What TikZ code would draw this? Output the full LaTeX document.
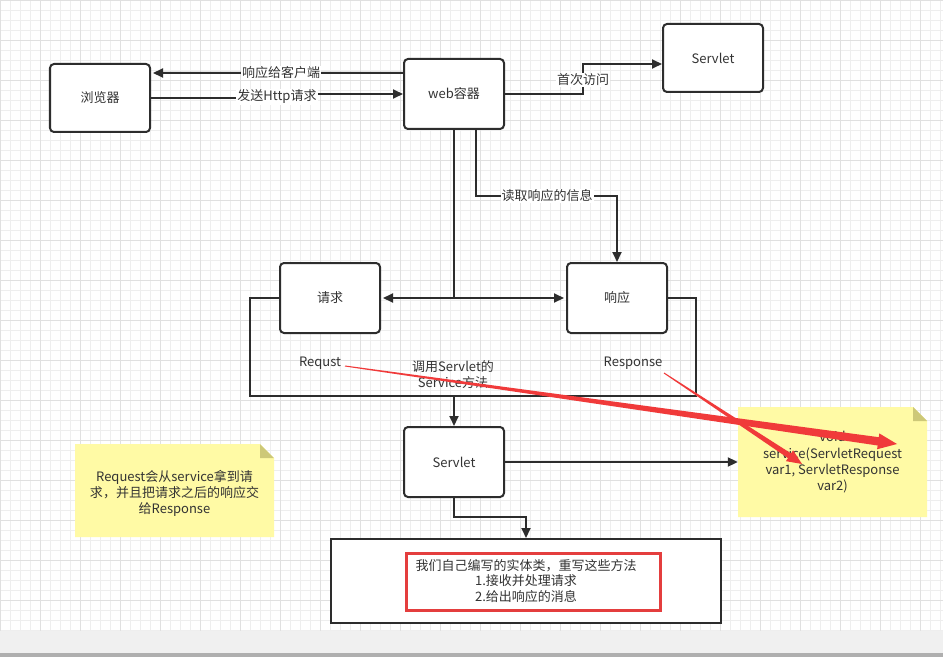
\documentclass[tikz,border=0pt]{standalone}
\usepackage{fontspec}
\setmainfont{Noto Sans CJK SC}
\usetikzlibrary{arrows.meta,calc}
\definecolor{ln}{RGB}{45,45,45}
\definecolor{txt}{RGB}{51,51,51}
\definecolor{gridminor}{RGB}{238,238,238}
\definecolor{gridmajor}{RGB}{224,224,224}
\definecolor{noteY}{RGB}{255,250,165}
\definecolor{noteF}{RGB}{205,200,120}
\definecolor{redA}{RGB}{240,58,58}
\definecolor{redB}{RGB}{228,62,62}
\definecolor{bottomgray}{RGB}{240,240,240}
\definecolor{bottomdark}{RGB}{175,175,175}
\newcommand\dfont{\fontsize{13bp}{16bp}\selectfont}
\newcommand\taperarrow[6]{%
  \path ($(#2)!#5!(#1)$) coordinate (tpH);
  \fill[redA] ($(#1)!#3!90:(#2)$) -- ($(tpH)!#4!-90:(#1)$) -- ($(tpH)!#6!-90:(#1)$) -- (#2)
    -- ($(tpH)!#6!90:(#1)$) -- ($(tpH)!#4!90:(#1)$) -- ($(#1)!#3!-90:(#2)$) -- cycle;
}
\tikzset{
  box/.style={draw=ln, line width=2bp, rounded corners=4bp, fill=white,
    minimum width=100bp, minimum height=70bp, text=txt, font=\dfont, inner sep=0pt},
  conn/.style={draw=ln, line width=2bp},
  arr/.style={conn, -{Triangle[length=10bp,width=9bp]}},
  lbl/.style={fill=white, inner sep=1bp, text=txt, font=\dfont},
  plain/.style={text=txt, font=\dfont, align=center, inner sep=1bp},
}
\begin{document}
\begin{tikzpicture}[x=1bp,y=-1bp]
\useasboundingbox (0,0) rectangle (943,657);
\fill[white] (0,0) rectangle (943,631);
\foreach \x in {0,10,...,940} \draw[gridminor, line width=1bp] (\x+0.5,0) -- (\x+0.5,631);
\foreach \y in {0,10,...,630} \draw[gridminor, line width=1bp] (0,\y+0.5) -- (943,\y+0.5);
\foreach \x in {0,40,...,920} \draw[gridmajor, line width=1bp] (\x+0.5,0) -- (\x+0.5,631);
\foreach \y in {0,40,...,600} \draw[gridmajor, line width=1bp] (0,\y+0.5) -- (943,\y+0.5);
\fill[bottomgray] (0,631) rectangle (943,653);
\fill[bottomdark] (0,653) rectangle (943,657);

% notes (shapes)
\fill[noteY] (75,444) -- (260,444) -- (274,458) -- (274,537) -- (75,537) -- cycle;
\fill[noteF] (260,444) -- (274,458) -- (260,458) -- cycle;
\fill[noteY] (738,407) -- (913,407) -- (927,421) -- (927,517) -- (738,517) -- cycle;
\fill[noteF] (913,407) -- (927,421) -- (913,421) -- cycle;

% boxes
\node[box, minimum height=68bp] (browser) at (100,98) {浏览器};
\node[box] (web) at (454,94) {web容器};
\node[box, minimum height=68bp] (servletA) at (713,58) {Servlet};
\node[box] (req) at (330,298) {请求};
\node[box] (resp) at (617,298) {响应};
\node[box] (servletB) at (454,462) {Servlet};
\node[draw=ln, line width=2bp, fill=white, minimum width=390bp, minimum height=84bp,
  text=txt, font=\dfont, align=center, inner sep=0pt] (impl) at (526,581)
  {我们自己编写的实体类，重写这些方法\\[-0.5bp]1.接收并处理请求\\[-0.5bp]2.给出响应的消息};
\node[draw=redB, line width=3bp, minimum width=254bp, minimum height=57bp] (hl) at (533,581.5) {};

% note texts
\node[plain] (lnote) at (174.5,493) {Request会从service拿到请\\求，并且把请求之后的响应交\\给Response};
\node[plain, minimum width=189bp, minimum height=110bp] (rnote) at (832.5,462)
  {void\\[1bp]service(ServletRequest\\var1, ServletResponse\\var2)};

% connectors
\draw[arr] ([yshift=21bp]web.west) -- ([yshift=25bp,xshift=2bp]browser.east);
\node[lbl] (l1) at (281,73) {响应给客户端};
\draw[arr] (browser.east) -- (278,98) -- (278,94) -- (web.west);
\node[lbl] (l2) at (277,97) {发送Http请求};
\coordinate (fv) at (583,80);
\draw[arr] (web.east) -| (fv) |- ([yshift=-6bp]servletA.west);
\node[lbl] (l3) at (fv) {首次访问};
\coordinate (rd) at (547,196);
\draw[arr] ([xshift=22bp]web.south) |- (rd) -| (resp.north);
\node[lbl] (l4) at (rd) {读取响应的信息};
\coordinate (jn) at (web.south |- req.east);
\draw[conn] (web.south) -- (jn);
\draw[arr] (jn) -- ([xshift=2bp]req.east);
\draw[arr] (jn) -- ([xshift=-2bp]resp.west);
\coordinate (bl) at (250,396);
\coordinate (br) at (696,396);
\draw[conn] (req.west) -| (bl) -- (br) |- (resp.east);
\draw[arr] (servletB.north |- bl) -- (servletB.north);
\node[plain] (l5) at (453,375) {调用Servlet的\\Service方法};
\draw[arr] (servletB.east) -- (rnote.west |- servletB.east);
\draw[arr] (servletB.south) |- ([yshift=21bp]impl.north) -- (impl.north);

% free texts
\node[plain] (rqt) at (320,363) {Requst};
\node[plain] (rst) at (633,363) {Response};

% red arrows
\coordinate (s1) at (345,366);
\coordinate (t1) at (897,444);
\coordinate (s2) at (664,373);
\coordinate (t2) at (802,464);
\taperarrow{s1}{t1}{0.5bp}{4.2bp}{19bp}{8bp}
\taperarrow{s2}{t2}{0.5bp}{2.8bp}{15bp}{6.5bp}
\end{tikzpicture}
\end{document}
